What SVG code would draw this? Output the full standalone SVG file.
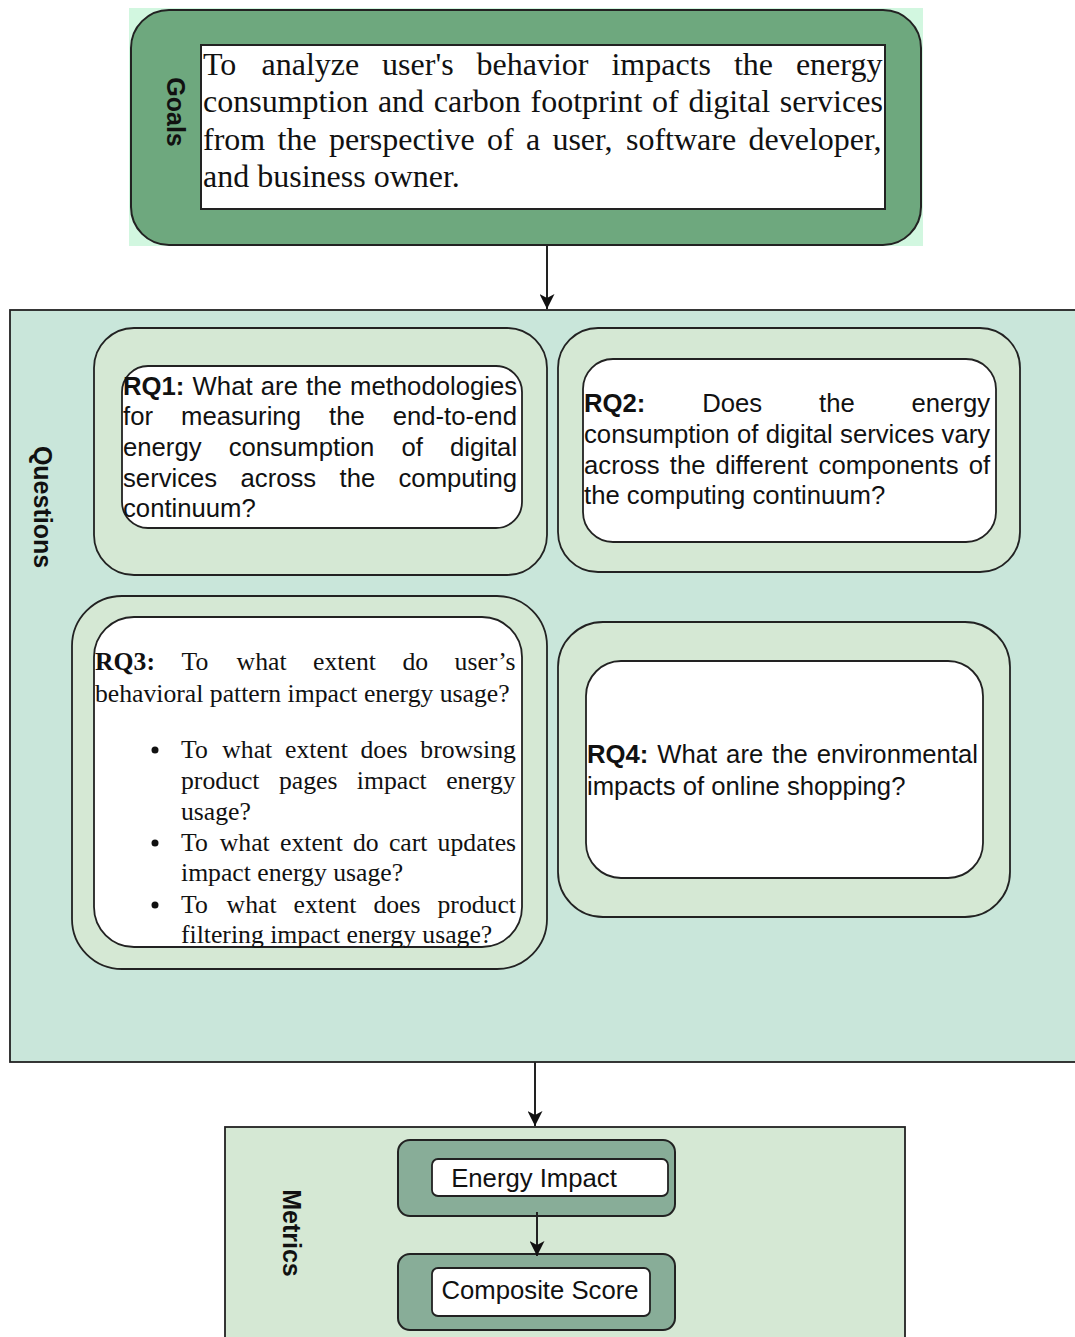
<svg xmlns="http://www.w3.org/2000/svg" width="1075" height="1337" viewBox="0 0 1075 1337">
  <defs>
    <marker id="arrow" viewBox="0 0 15 15" refX="15" refY="7.5" markerWidth="15" markerHeight="15" markerUnits="userSpaceOnUse" orient="auto">
      <path d="M0,0 L15,7.5 L0,15 L4,7.5 Z" fill="#111"/>
    </marker>
    <style>
      .edge { stroke: #222; stroke-width: 2; fill: none; }
      .sans { font-family: "Liberation Sans", Arial, Helvetica, sans-serif; fill: #111; }
      .serif { font-family: "Liberation Serif", "Times New Roman", serif; fill: #111; }
      .lane { font-family: "Liberation Sans", Arial, sans-serif; font-weight: bold; font-size: 25px; fill: #111; }
      .qtext { font-size: 25.7px; }
      .b { font-weight: bold; }
      .outer { fill: #d5e8d4; stroke: #222; stroke-width: 1.8; }
      .inner { fill: #ffffff; stroke: #222; stroke-width: 1.8; }
      .metric { fill: #88ad98; stroke: #222; stroke-width: 2; }
    </style>
  </defs>

  <rect width="1075" height="1337" fill="#ffffff"/>

  <!-- Goals -->
  <g id="goals">
    <rect x="129" y="8" width="794" height="238" fill="#d2f7e0"/>
    <rect x="131" y="10" width="790" height="235" rx="38" fill="#6ea87e" stroke="#222" stroke-width="2"/>
    <rect x="201" y="45" width="684" height="164" fill="#ffffff" stroke="#222" stroke-width="2"/>
    <text class="lane" transform="translate(176,112) rotate(90)" text-anchor="middle" dominant-baseline="central" font-size="24">Goals</text>
    <text class="serif" font-size="32">
      <tspan x="203" y="75">To</tspan><tspan x="261.5" y="75">analyze</tspan><tspan x="382.1" y="75">user's</tspan><tspan x="476.5" y="75">behavior</tspan><tspan x="611.4" y="75">impacts</tspan><tspan x="733.9" y="75">the</tspan><tspan x="795.9" y="75">energy</tspan>
      <tspan x="203" y="112">consumption</tspan><tspan x="377.9" y="112">and</tspan><tspan x="433.8" y="112">carbon</tspan><tspan x="530.5" y="112">footprint</tspan><tspan x="652.1" y="112">of</tspan><tspan x="688.4" y="112">digital</tspan><tspan x="779.8" y="112">services</tspan>
      <tspan x="203" y="150">from</tspan><tspan x="277.5" y="150">the</tspan><tspan x="328.9" y="150">perspective</tspan><tspan x="486.9" y="150">of</tspan><tspan x="525.9" y="150">a</tspan><tspan x="552.4" y="150">user,</tspan><tspan x="626" y="150">software</tspan><tspan x="748.5" y="150">developer,</tspan>
      <tspan x="203" y="187">and business owner.</tspan>
    </text>
  </g>

  <!-- Questions lane -->
  <g id="questions">
    <rect x="10" y="310" width="1075" height="752" fill="#c9e6da" stroke="#222" stroke-width="1.8"/>
    <text class="lane" transform="translate(43,507) rotate(90)" text-anchor="middle" dominant-baseline="central">Questions</text>
  </g>

  <!-- RQ1 -->
  <g id="rq1">
    <rect class="outer" x="94" y="328" width="453" height="247" rx="40"/>
    <rect class="inner" x="122" y="366" width="400" height="162" rx="26"/>
    <text class="sans qtext">
      <tspan x="123" y="395" class="b">RQ1:</tspan><tspan x="192.6" y="395">What</tspan><tspan x="260.8" y="395">are</tspan><tspan x="306.1" y="395">the</tspan><tspan x="350" y="395">methodologies</tspan>
      <tspan x="123" y="425">for</tspan><tspan x="181" y="425">measuring</tspan><tspan x="329" y="425">the</tspan><tspan x="392.7" y="425">end-to-end</tspan>
      <tspan x="123" y="456">energy</tspan><tspan x="228.7" y="456">consumption</tspan><tspan x="401.5" y="456">of</tspan><tspan x="450" y="456">digital</tspan>
      <tspan x="123" y="487">services</tspan><tspan x="240.5" y="487">across</tspan><tspan x="339.5" y="487">the</tspan><tspan x="398.5" y="487">computing</tspan>
      <tspan x="123" y="517">continuum?</tspan>
    </text>
  </g>

  <!-- RQ2 -->
  <g id="rq2">
    <rect class="outer" x="558" y="328" width="462" height="244" rx="40"/>
    <rect class="inner" x="583" y="359" width="413" height="183" rx="30"/>
    <text class="sans qtext">
      <tspan x="584" y="412" class="b">RQ2:</tspan><tspan x="702.2" y="412">Does</tspan><tspan x="819" y="412">the</tspan><tspan x="911.5" y="412">energy</tspan>
      <tspan x="584" y="443">consumption</tspan><tspan x="737" y="443">of</tspan><tspan x="765.7" y="443">digital</tspan><tspan x="840.1" y="443">services</tspan><tspan x="941.6" y="443">vary</tspan>
      <tspan x="584" y="474">across</tspan><tspan x="669.8" y="474">the</tspan><tspan x="715.6" y="474">different</tspan><tspan x="818.6" y="474">components</tspan><tspan x="968.7" y="474">of</tspan>
      <tspan x="584" y="504">the computing continuum?</tspan>
    </text>
  </g>

  <!-- RQ3 -->
  <g id="rq3">
    <rect class="outer" x="72" y="596" width="475" height="373" rx="50"/>
    <rect class="inner" x="94" y="617" width="428" height="330" rx="40"/>
    <text class="serif qtext">
      <tspan x="95" y="670" class="b">RQ3:</tspan><tspan x="181.5" y="670">To</tspan><tspan x="236.6" y="670">what</tspan><tspan x="313.1" y="670">extent</tspan><tspan x="402.4" y="670">do</tspan><tspan x="454.6" y="670">user’s</tspan>
      <tspan x="95" y="702">behavioral pattern impact energy usage?</tspan>
      <tspan x="181" y="758">To</tspan><tspan x="222.3" y="758">what</tspan><tspan x="285" y="758">extent</tspan><tspan x="360.5" y="758">does</tspan><tspan x="420.3" y="758">browsing</tspan>
      <tspan x="181" y="789">product</tspan><tspan x="278.9" y="789">pages</tspan><tspan x="356.8" y="789">impact</tspan><tspan x="446.2" y="789">energy</tspan>
      <tspan x="181" y="820">usage?</tspan>
      <tspan x="181" y="851">To</tspan><tspan x="219.8" y="851">what</tspan><tspan x="280" y="851">extent</tspan><tspan x="353" y="851">do</tspan><tspan x="388.9" y="851">cart</tspan><tspan x="437.6" y="851">updates</tspan>
      <tspan x="181" y="881">impact energy usage?</tspan>
      <tspan x="181" y="913">To</tspan><tspan x="226.6" y="913">what</tspan><tspan x="293.6" y="913">extent</tspan><tspan x="373.4" y="913">does</tspan><tspan x="437.5" y="913">product</tspan>
      <tspan x="181" y="943">filtering impact energy usage?</tspan>
    </text>
    <circle cx="155" cy="750" r="3.5" fill="#111"/>
    <circle cx="155" cy="843" r="3.5" fill="#111"/>
    <circle cx="155" cy="905" r="3.5" fill="#111"/>
  </g>

  <!-- RQ4 -->
  <g id="rq4">
    <rect class="outer" x="558" y="622" width="452" height="295" rx="45"/>
    <rect class="inner" x="586" y="661" width="397" height="217" rx="35"/>
    <text class="sans qtext">
      <tspan x="587" y="763" class="b">RQ4:</tspan><tspan x="657.3" y="763">What</tspan><tspan x="726.1" y="763">are</tspan><tspan x="772.1" y="763">the</tspan><tspan x="816.7" y="763">environmental</tspan>
      <tspan x="587" y="795">impacts of online shopping?</tspan>
    </text>
  </g>

  <!-- Metrics lane -->
  <g id="metrics">
    <rect x="225" y="1127" width="680" height="220" fill="#d5e8d4" stroke="#222" stroke-width="1.8"/>
    <text class="lane" transform="translate(292,1233) rotate(90)" text-anchor="middle" dominant-baseline="central">Metrics</text>
  </g>

  <g id="energy-impact">
    <rect class="metric" x="398" y="1140" width="277" height="76" rx="12"/>
    <rect class="inner" x="432" y="1159" width="236" height="37" rx="6"/>
    <text class="sans qtext" x="534" y="1187" text-anchor="middle">Energy Impact</text>
  </g>

  <g id="composite-score">
    <rect class="metric" x="398" y="1254" width="277" height="76" rx="12"/>
    <rect class="inner" x="432" y="1268" width="218" height="48" rx="6"/>
    <text class="sans qtext" x="540" y="1299" text-anchor="middle">Composite Score</text>
  </g>

  <!-- Connectors -->
  <g id="connectors">
    <line class="edge" x1="547" y1="246" x2="547" y2="309" marker-end="url(#arrow)"/>
    <line class="edge" x1="535" y1="1062" x2="535" y2="1126" marker-end="url(#arrow)"/>
    <line class="edge" x1="537" y1="1212" x2="537" y2="1256" marker-end="url(#arrow)" stroke-width="2.6"/>
  </g>
</svg>
